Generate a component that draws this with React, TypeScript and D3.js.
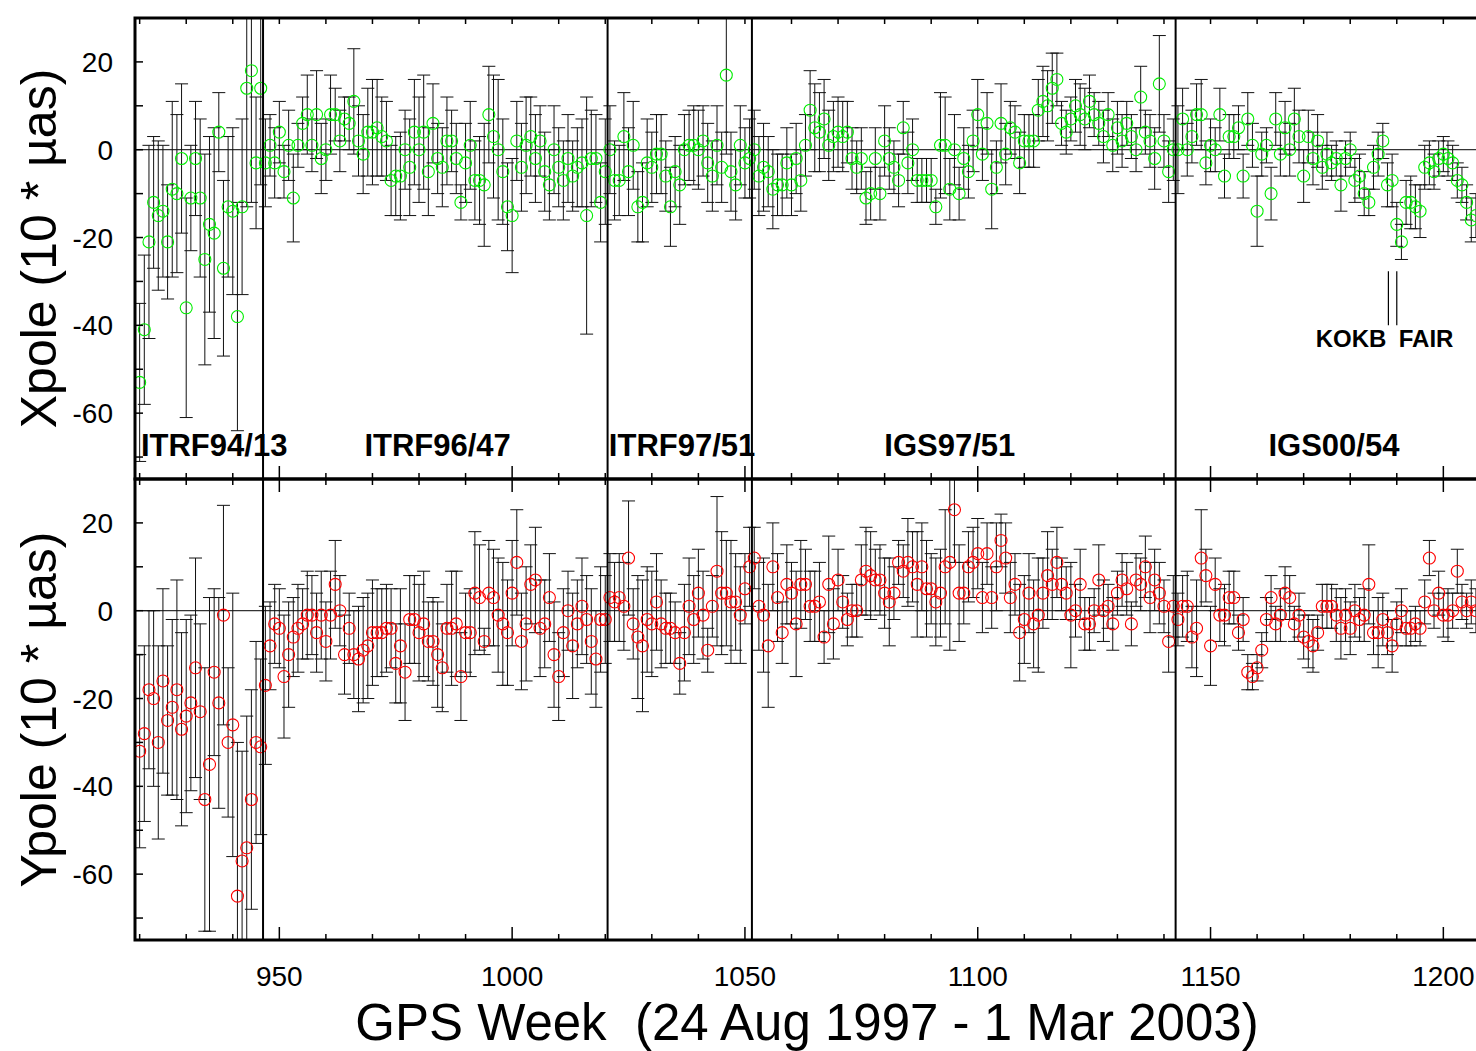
import React from 'react';
import * as d3 from 'd3';

// weekly pole offsets (10 * µas), one value per GPS week starting at startWeek
const startWeek = 920;

const xpoleValues = [
  -53, -41, -21, -12, -15, -14, -21, -9, -10, -2,
  -36, -11, -2, -11, -25, -17, -19, 4, -27, -13,
  -14, -38, -13, 14, 18, -3, 14, -3, 1, -3,
  4, -5, 1, -11, 1, 6, 8, 1, 8, -2,
  0, 8, 8, 2, 7, 6, 11, 2, -1, 4,
  4, 5, 3, 2, -7, -6, -6, 0, -4, 4,
  0, 4, -5, 6, -2, -4, 2, 2, -2, -12,
  -3, 1, -7, -7, -8, 8, 3, 0, -5, -13,
  -15, 2, -4, 1, 3, -2, 2, -5, -8, 0,
  -4, -7, -2, -6, -4, -3, -15, -2, -2, -12,
  -5, 0, -7, -7, 3, -5, 1, -13, -12, -3,
  -4, -1, -1, -6, -13, -5, -8, 0, 1, 1,
  0, 2, -3, -6, 1, -4, 17, -5, -8, 1,
  -3, -2, 0, -6, -4, -5, -9, -8, -8, -3,
  -8, -2, -7, 1, 9, 5, 4, 7, 1, 3,
  4, 3, 4, -2, -4, -2, -11, -10, -2, -10,
  2, -2, -4, -7, 5, -3, 0, -7, -7, -7,
  -7, -13, 1, 1, -9, 0, -10, -2, -5, 2,
  8, -1, 6, -9, -4, 6, -1, 5, 4, -3,
  2, 2, 2, 9, 11, 10, 14, 16, 6, 4,
  7, 10, 8, 7, 11, 8, 6, 3, 8, 1,
  5, 2, 6, 3, 0, 12, 4, 2, -2, 15,
  2, -5, 0, 0, 7, 0, 3, 8, 8, -3,
  1, 0, 8, -6, 3, 3, 5, -6, 7, 1,
  -14, -1, 1, -10, 7, -1, 5, 0, 7, 3,
  -6, 3, -2, 2, -4, -1, -3, -2, -8, -2,
  0, -7, -6, -10, -12, -4, -1, 2, -8, -7,
  -17, -21, -12, -12, -13, -14, -4, -3, -5, -2,
  -1, -2, -3, -7, -8, -12, -16, -15,
];

const xpoleSigma = [
  18, 17, 22, 15, 17, 15, 13, 20, 18, 17,
  25, 12, 13, 18, 24, 20, 24, 9, 20, 16,
  19, 26, 20, 27, 30, 15, 22, 10, 7, 8,
  7, 6, 8, 10, 5, 6, 9, 6, 10, 8,
  7, 9, 6, 7, 5, 6, 12, 8, 9, 10,
  12, 11, 9, 9, 8, 9, 10, 9, 11, 12,
  12, 13, 10, 9, 8, 9, 10, 7, 8, 4,
  9, 10, 9, 10, 14, 11, 14, 16, 12, 10,
  13, 9, 10, 11, 9, 10, 8, 9, 8, 10,
  9, 9, 10, 8, 9, 10, 27, 11, 10, 9,
  12, 10, 9, 8, 10, 10, 10, 8, 9, 10,
  8, 9, 9, 8, 9, 8, 9, 8, 8, 9,
  9, 8, 9, 8, 9, 8, 18, 9, 8, 9,
  8, 9, 9, 9, 10, 8, 9, 7, 7, 8,
  7, 8, 7, 7, 9, 10, 9, 9, 8, 8,
  8, 8, 7, 7, 6, 7, 6, 6, 7, 6,
  8, 7, 6, 6, 6, 7, 7, 5, 5, 5,
  5, 4, 12, 11, 7, 8, 6, 7, 6, 7,
  8, 6, 7, 9, 6, 9, 7, 6, 6, 7,
  6, 6, 6, 7, 8, 8, 8, 6, 5, 5,
  5, 6, 7, 7, 6, 5, 5, 6, 5, 6,
  6, 6, 5, 5, 5, 7, 5, 6, 7, 11,
  6, 7, 7, 10, 7, 6, 6, 7, 8, 5,
  6, 5, 6, 5, 5, 5, 5, 5, 6, 5,
  8, 5, 4, 6, 6, 5, 6, 6, 7, 6,
  6, 6, 6, 6, 5, 5, 4, 4, 6, 4,
  4, 5, 5, 5, 3, 5, 5, 4, 5, 6,
  5, 4, 5, 6, 5, 6, 5, 5, 4, 4,
  4, 4, 4, 4, 4, 4, 5, 5,
];

const ypoleValues = [
  -32, -28, -18, -20, -30, -16, -25, -22, -18, -27,
  -24, -21, -13, -23, -43, -35, -14, -21, -1, -30,
  -26, -65, -57, -54, -43, -30, -31, -17, -8, -3,
  -4, -15, -10, -6, -4, -3, -1, -1, -5, -1,
  -7, -1, 6, 0, -10, -4, -10, -11, -9, -8,
  -5, -5, -5, -4, -4, -12, -8, -14, -2, -2,
  -5, -3, -7, -7, -10, -13, -4, -4, -3, -15,
  -5, -5, 4, 3, -7, 4, 3, -1, -3, -5,
  4, 11, -7, -3, 6, 7, -4, -3, 3, -10,
  -15, -5, 0, -8, -3, 1, -2, -7, -11, -2,
  -2, 3, 2, 3, 1, 12, -3, -6, -8, -2,
  -3, 2, -3, -4, -4, -5, -12, -5, 1, -2,
  4, -1, -9, 1, 9, 4, 4, 2, 2, -1,
  5, 10, 12, 1, -1, -8, 10, 3, -5, 6,
  4, -3, 6, 6, 1, 1, 2, -6, 6, -3,
  7, 2, -2, 0, 0, 7, 9, 8, 7, 7,
  4, 2, 4, 11, 9, 11, 10, 6, 10, 5,
  5, 2, 4, 10, 11, 23, 4, 4, 10, 11,
  13, 3, 13, 3, 10, 16, 12, 3, 6, -5,
  -2, 4, -3, -1, 4, 8, 6, 11, 6, 4,
  -1, 0, 6, -3, -3, 0, 7, 0, 1, -3,
  4, 7, 5, -3, 7, 6, 10, 3, 7, 4,
  1, -7, 1, -2, 1, 1, -6, -4, 12, 8,
  -8, 6, -1, -1, 3, 3, -5, -2, -14, -15,
  -13, -9, -2, 3, -3, -1, 4, 3, -3, -1,
  -6, -7, -8, -5, 1, 1, 1, -1, -4, -1,
  -4, 0, -2, -1, 6, -5, -5, -2, -5, -8,
  -3, 0, -4, -4, -3, -4, 2, 12, 0, 4,
  -1, -1, 0, 9, 2, 0, 2, 0,
];

const ypoleSigma = [
  22, 20, 18, 20, 22, 21, 17, 20, 25, 22,
  22, 20, 25, 20, 30, 38, 19, 24, 25, 17,
  30, 35, 25, 30, 25, 23, 20, 18, 10, 9,
  9, 14, 12, 9, 10, 8, 10, 9, 9, 10,
  9, 10, 10, 8, 9, 8, 10, 12, 12, 12,
  12, 10, 10, 10, 9, 9, 13, 11, 10, 10,
  11, 12, 9, 10, 12, 10, 10, 13, 12, 10,
  9, 10, 14, 12, 3, 12, 11, 13, 14, 12,
  12, 12, 11, 13, 9, 12, 11, 10, 10, 12,
  10, 10, 9, 12, 10, 11, 10, 12, 11, 12,
  10, 10, 9, 10, 10, 13, 8, 14, 15, 12,
  12, 11, 10, 8, 8, 7, 7, 11, 11, 10,
  10, 10, 5, 7, 17, 14, 12, 14, 11, 11,
  8, 9, 7, 10, 13, 14, 10, 10, 7, 9,
  7, 12, 10, 8, 8, 8, 9, 6, 11, 8,
  7, 6, 6, 6, 6, 8, 10, 10, 7, 8,
  8, 10, 6, 5, 6, 10, 8, 12, 10, 11,
  8, 10, 10, 13, 20, 12, 11, 7, 8, 8,
  8, 8, 7, 7, 10, 6, 8, 8, 7, 11,
  10, 9, 10, 13, 8, 10, 8, 8, 6, 6,
  12, 6, 8, 6, 6, 5, 8, 7, 5, 6,
  5, 6, 6, 5, 6, 6, 7, 8, 7, 7,
  6, 7, 7, 6, 7, 8, 7, 11, 11, 6,
  9, 6, 6, 7, 6, 6, 4, 5, 4, 3,
  3, 4, 5, 5, 4, 6, 6, 5, 4, 5,
  5, 6, 6, 4, 5, 5, 5, 6, 7, 6,
  6, 6, 5, 6, 9, 5, 8, 6, 5, 6,
  5, 5, 4, 4, 4, 4, 5, 4, 4, 5,
  5, 6, 4, 5, 4, 4, 5, 5,
];

// reference frame changes
const frameBreaks = [946.5, 1020.5, 1051.5, 1142.5];
const frameNames = ['ITRF94/13', 'ITRF96/47', 'ITRF97/51', 'IGS97/51', 'IGS00/54'];
const frameLabelWeeks = [936, 984, 1036.5, 1094, 1176.5];

// station events
const stationNames = ['KOKB', 'FAIR'];
const stationWeeks = [1188.2, 1190];

const xTicks = [950, 1000, 1050, 1100, 1150, 1200];
const yTicks = [20, 0, -20, -40, -60];

const W = 1476;
const H = 1051;
const font = '"Liberation Sans", Arial, Helvetica, sans-serif';

const x = d3.scaleLinear().domain([919, 1210]).range([135, 1489.9]);

function Panel({ y0, y1, values, sigma, color, title, id, topLong, children }) {
  const y = d3.scaleLinear().domain([-75, 30]).range([y1, y0]);
  const [xl, xr] = x.range();
  const cap = 6.5;
  const weekTicks = d3.range(920, 1211, 10);
  const valTicks = d3.range(-70, 31, 10);

  return (
    <g>
      <defs>
        <clipPath id={id}>
          <rect x={xl} y={y0} width={xr - xl} height={y1 - y0} />
        </clipPath>
      </defs>

      <line x1={xl} x2={xr} y1={y(0)} y2={y(0)} stroke="#000" strokeWidth={1} />

      <g clipPath={`url(#${id})`} fill="none">
        {values.map((v, i) => {
          const cx = x(startWeek + i);
          const hi = y(v + sigma[i]);
          const lo = y(v - sigma[i]);
          return (
            <g key={i} stroke="#111" strokeWidth={1}>
              <line x1={cx} x2={cx} y1={hi} y2={lo} />
              <line x1={cx - cap} x2={cx + cap} y1={hi} y2={hi} />
              <line x1={cx - cap} x2={cx + cap} y1={lo} y2={lo} />
            </g>
          );
        })}
        {values.map((v, i) => (
          <circle key={i} cx={x(startWeek + i)} cy={y(v)} r={6} stroke={color} strokeWidth={1.1} />
        ))}
      </g>

      {/* inward ticks */}
      <g stroke="#000" strokeWidth={1.5}>
        {weekTicks.map((w) => {
          const major = w % 50 === 0;
          return (
            <g key={w}>
              <line x1={x(w)} x2={x(w)} y1={y0} y2={y0 + (major && topLong ? 13 : 6)} />
              <line x1={x(w)} x2={x(w)} y1={y1} y2={y1 - (major ? 13 : 6)} />
            </g>
          );
        })}
        {valTicks.map((t) => (
          <line key={t} x1={xl} x2={xl + 8} y1={y(t)} y2={y(t)} />
        ))}
      </g>

      {yTicks.map((t) => (
        <text key={t} x={113} y={y(t)} dy="0.36em" textAnchor="end" fontSize={28} fontFamily={font}>
          {t}
        </text>
      ))}

      <text
        transform={`translate(56,${(y0 + y1) / 2}) rotate(-90)`}
        textAnchor="middle"
        fontSize={50}
        fontFamily={font}
      >
        {title}
      </text>

      {children && children(y)}

      <rect x={xl} y={y0} width={xr - xl} height={y1 - y0} fill="none" stroke="#000" strokeWidth={3} />
    </g>
  );
}

export default function App() {
  const top0 = 18;
  const mid = 479;
  const bot = 940;

  return (
    <svg width={W} height={H} style={{ position: 'absolute', left: 0, top: 0, background: '#fff' }}>
      <rect width={W} height={H} fill="#fff" />

      <Panel y0={top0} y1={mid} values={xpoleValues} sigma={xpoleSigma} color="#00ee00" title="Xpole (10 * µas)" id="clipX" topLong={false}>
        {(y) => (
          <g>
            {frameNames.map((n, i) => (
              <text key={n} x={x(frameLabelWeeks[i])} y={y(-69.8)} textAnchor="middle" fontSize={31} fontWeight="bold" fontFamily={font}>
                {n}
              </text>
            ))}
            {stationWeeks.map((w, i) => (
              <line key={i} x1={x(w)} x2={x(w)} y1={y(-27.7)} y2={y(-40)} stroke="#000" strokeWidth={1.2} />
            ))}
            <text x={x(stationWeeks[0]) - 2} y={y(-45)} textAnchor="end" fontSize={24} fontWeight="bold" fontFamily={font}>
              {stationNames[0]}
            </text>
            <text x={x(stationWeeks[1]) + 2} y={y(-45)} textAnchor="start" fontSize={24} fontWeight="bold" fontFamily={font}>
              {stationNames[1]}
            </text>
          </g>
        )}
      </Panel>

      <Panel y0={mid} y1={bot} values={ypoleValues} sigma={ypoleSigma} color="#ff0000" title="Ypole (10 * µas)" id="clipY" topLong={true} />

      {/* frame change markers across both panels */}
      {frameBreaks.map((w) => (
        <line key={w} x1={x(w)} x2={x(w)} y1={top0} y2={bot} stroke="#000" strokeWidth={2} />
      ))}

      {xTicks.map((t) => (
        <text key={t} x={x(t)} y={986} textAnchor="middle" fontSize={28} fontFamily={font}>
          {t}
        </text>
      ))}

      <text x={807} y={1040} textAnchor="middle" fontSize={51} fontFamily={font} style={{ whiteSpace: 'pre' }}>
        {'GPS Week  (24 Aug 1997 - 1 Mar 2003)'}
      </text>
    </svg>
  );
}
